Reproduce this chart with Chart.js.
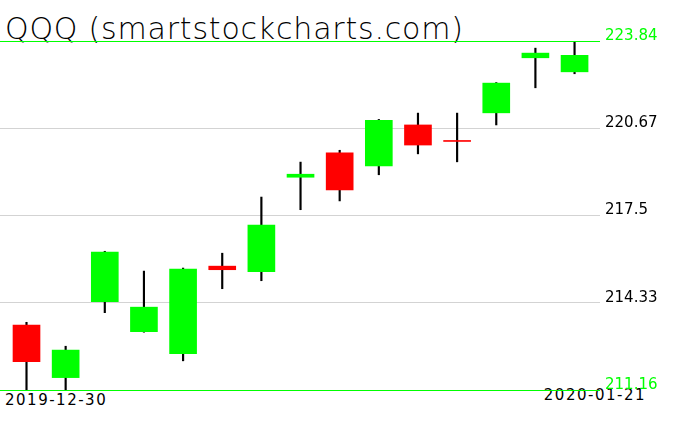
<!DOCTYPE html>
<html>
<head>
<meta charset="utf-8">
<script src="https://cdn.jsdelivr.net/npm/chart.js@4.4.1/dist/chart.umd.min.js"></script>
<style>
  html, body { margin: 0; padding: 0; background: #fff; }
  #wrap { position: relative; width: 676px; height: 431px; overflow: hidden; background: #fff; }
  #c { position: absolute; left: 0; top: 0; z-index: 2; }
  .txt { position: absolute; z-index: 1; font-family: "DejaVu Sans", sans-serif; color: #000; white-space: nowrap; }
  #title { left: 5px; top: 14px; font-size: 30px; line-height: 30px; font-weight: 200; letter-spacing: 0.8px; }
  .date { font-size: 15px; line-height: 15px; font-weight: 400; letter-spacing: 1.5px; }
  #d0 { left: 5px; top: 393px; }
  #d1 { right: 30px; top: 388px; }
</style>
</head>
<body>
<div id="wrap">
  <div id="title" class="txt"></div>
  <div id="d0" class="txt date"></div>
  <div id="d1" class="txt date"></div>
  <canvas id="c" width="676" height="431"></canvas>
</div>
<script>
const titleText = "QQQ (smartstockcharts.com)";
const dates = ["2019-12-30","2019-12-31","2020-01-02","2020-01-03","2020-01-06","2020-01-07","2020-01-08",
               "2020-01-09","2020-01-10","2020-01-13","2020-01-14","2020-01-15","2020-01-16","2020-01-17","2020-01-21"];
const opens  = [213.52, 211.61, 214.37, 213.28, 212.48, 215.66, 215.46, 218.89, 219.78, 219.30, 220.79, 220.19, 221.23, 223.23, 222.72];
const closes = [212.19, 212.61, 216.17, 214.17, 215.55, 215.53, 217.15, 219.00, 218.43, 220.96, 220.06, 220.19, 222.31, 223.40, 223.32];
const highs  = [213.62, 212.75, 216.20, 215.48, 215.59, 216.13, 218.17, 219.44, 219.87, 220.99, 221.22, 221.22, 222.33, 223.58, 223.84];
const lows   = [211.00, 211.00, 213.97, 213.26, 212.22, 214.84, 215.13, 217.71, 218.03, 218.98, 219.74, 219.45, 220.79, 222.14, 222.65];
const tickValues = [211.16, 214.33, 217.5, 220.67, 223.84];
const tickLabels = ["211.16", "214.33", "217.5", "220.67", "223.84"];

document.getElementById('title').textContent = titleText;
document.getElementById('d0').textContent = dates[0];
document.getElementById('d1').textContent = dates[dates.length - 1];

const GREEN = '#00ff00', RED = '#ff0000', GRID = '#d3d3d3';
const bodyData = dates.map((d, i) => ({ x: i, y: [opens[i], closes[i]] }));
const wickData = dates.map((d, i) => ({ x: i, y: [lows[i], highs[i]] }));
const bodyColors = dates.map((d, i) => closes[i] > opens[i] ? GREEN : RED);
const yMin = tickValues[0], yMax = tickValues[tickValues.length - 1];
const gridColors = tickValues.map((v, i) => (i === 0 || i === tickValues.length - 1) ? 'rgba(0,0,0,0)' : GRID);
const labelColors = tickValues.map((v, i) => (i === 0 || i === tickValues.length - 1) ? GREEN : '#000');

// The two green limit lines, placed through the y scale and drawn on top
const edgeLines = {
  id: 'edgeLines',
  afterDraw(chart) {
    const { ctx, chartArea, scales } = chart;
    ctx.save();
    ctx.fillStyle = GREEN;
    [yMin, yMax].forEach(v => {
      const y = Math.round(scales.y.getPixelForValue(v));
      ctx.fillRect(chartArea.left, y, chartArea.right - chartArea.left, 1);
    });
    ctx.restore();
  }
};

new Chart(document.getElementById('c'), {
  type: 'bar',
  data: {
    datasets: [
      { label: 'body', data: bodyData, backgroundColor: bodyColors, barThickness: 27, minBarLength: 1, grouped: false, borderWidth: 0 },
      { label: 'wick', data: wickData, backgroundColor: '#000', barThickness: 1.5, grouped: false, borderWidth: 0 }
    ]
  },
  plugins: [edgeLines],
  options: {
    responsive: false,
    animation: false,
    devicePixelRatio: 1,
    layout: { padding: { left: 0, right: 0, top: 41, bottom: 41 } },
    plugins: { legend: { display: false }, tooltip: { enabled: false }, title: { display: false } },
    scales: {
      x: { type: 'linear', display: false, offset: false, min: -0.677, max: 14.65, grid: { display: false } },
      y: {
        position: 'right',
        min: yMin, max: yMax,
        afterBuildTicks: (scale) => { scale.ticks = tickValues.map(v => ({ value: v })); },
        afterFit: (scale) => { scale.width = 76; },
        border: { display: false },
        grid: {
          drawTicks: false,
          color: gridColors,
          lineWidth: 1
        },
        ticks: {
          padding: 5,
          labelOffset: -5,
          font: { family: '"DejaVu Sans", sans-serif', size: 15, weight: 400 },
          color: labelColors,
          callback: (v, i) => tickLabels[i]
        }
      }
    }
  }
});
</script>
</body>
</html>
